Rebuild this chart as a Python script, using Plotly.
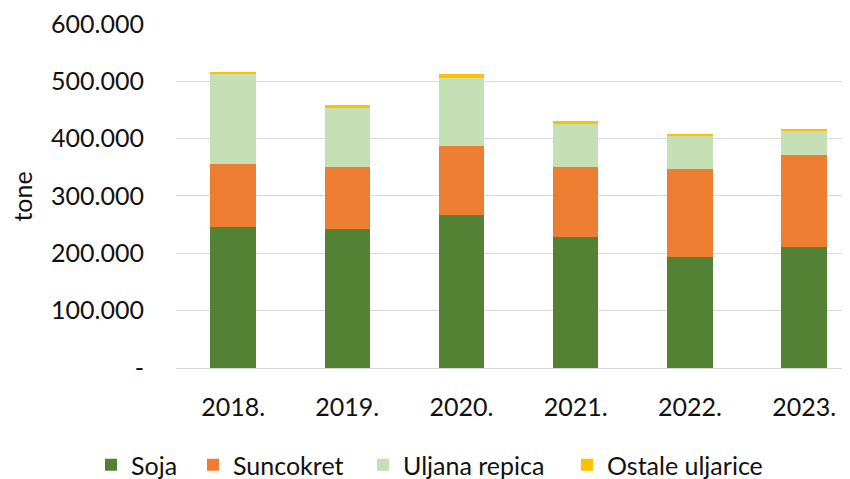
import plotly.graph_objects as go

years = ["2018.", "2019.", "2020.", "2021.", "2022.", "2023."]
soja = [245600, 243200, 266600, 228200, 194400, 211800]
suncokret = [110300, 108000, 120700, 123000, 152800, 159800]
uljana_repica = [156800, 102800, 119000, 74900, 58000, 42300]
ostale_uljarice = [4000, 4600, 6400, 4200, 3000, 3000]

series_names = ["Soja", "Suncokret", "Uljana repica", "Ostale uljarice"]
series_values = [soja, suncokret, uljana_repica, ostale_uljarice]
series_colors = ["#548235", "#ED7D31", "#C5E0B4", "#FFC000"]

y_tickvals = [0, 100000, 200000, 300000, 400000, 500000, 600000]
y_ticktext = ["-", "100.000", "200.000", "300.000", "400.000", "500.000", "600.000"]

FONT = "Lato"
TXT = "#111111"
FS = 25

W, H = 842, 471  # page body has an 8px margin
legend_x_px = [83, 185, 355, 559]
legend_ids = ["legend", "legend2", "legend3", "legend4"]

fig = go.Figure()
for name, vals, col, lid in zip(series_names, series_values, series_colors, legend_ids):
    fig.add_trace(go.Bar(x=years, y=vals, name=name, legend=lid,
                         marker=dict(color=col, line=dict(width=0))))

legend_common = dict(orientation="h", xref="container", yref="container",
                     xanchor="left", y=14 / H, yanchor="middle",
                     font=dict(family=FONT, size=FS, color=TXT),
                     bgcolor="rgba(0,0,0,0)", borderwidth=0)
legends = {}
for lid, px in zip(legend_ids, legend_x_px):
    legends[lid] = dict(legend_common, x=px / W)

fig.update_layout(
    width=W, height=H,
    barmode="stack",
    bargap=0.604,
    plot_bgcolor="white", paper_bgcolor="white",
    margin=dict(l=168, r=0, t=15, b=111, autoexpand=False),
    font=dict(family=FONT, size=FS, color=TXT),
    showlegend=True,
    xaxis=dict(type="category", range=[-0.5, 5.402], showgrid=False, showline=False,
               ticks="", tickfont=dict(family=FONT, size=FS, color=TXT), ticklabelstandoff=22),
    yaxis=dict(range=[0, 601500], tickvals=y_tickvals, ticktext=y_ticktext,
               showgrid=True, gridcolor="#D9D9D9", gridwidth=1.3, zeroline=True,
               zerolinecolor="#D9D9D9", zerolinewidth=1.3, showline=False, ticks="",
               ticklabeloverflow="allow",
               tickfont=dict(family=FONT, size=FS, color=TXT), ticklabelstandoff=31),
    **legends,
)
fig.add_annotation(text="tone", xref="paper", yref="paper", x=-0.2285, y=0.497,
                   textangle=-90, showarrow=False, xanchor="center", yanchor="middle",
                   font=dict(family=FONT, size=FS, color=TXT))

fig.write_html("out.html")
